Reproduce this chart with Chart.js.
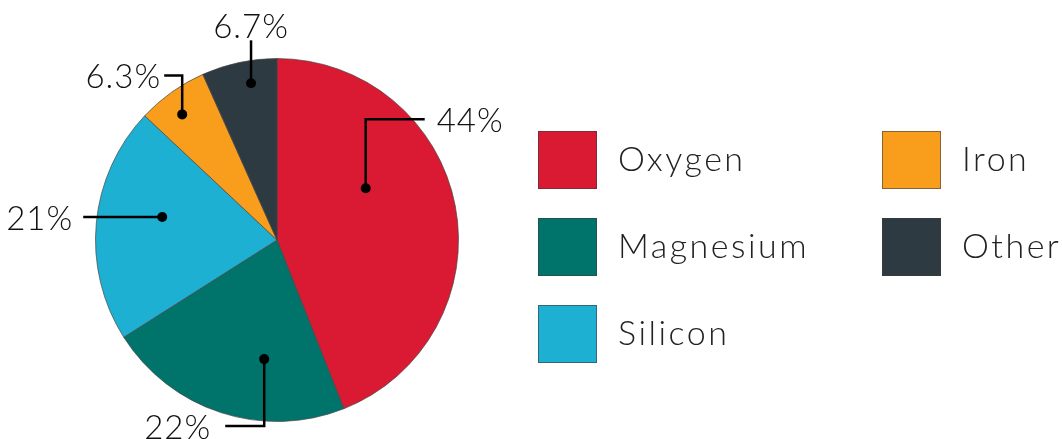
<!DOCTYPE html>
<html>
<head>
<meta charset="utf-8">
<script src="https://cdn.jsdelivr.net/npm/chart.js@4"></script>
<style>
  html, body { margin: 0; padding: 0; background: #fff; }
  #wrap { width: 1062px; height: 439px; position: relative; }
</style>
</head>
<body>
<div id="wrap"><canvas id="grafico"></canvas></div>
<script>
// Composición (%)
const elementos = ["Oxygen", "Magnesium", "Silicon", "Iron", "Other"];
const porcentajes = [44, 22, 21, 6.3, 6.7];
const colores = ["#DA1A32", "#00736A", "#1EB0D2", "#F99D1C", "#2E3A42"];

const fuente = "'Century Gothic', 'Lato', sans-serif";

// Posición del punto dentro de cada porción y del codo de la línea guía
// f: fracción del ángulo de la porción, r: fracción del radio
const guias = [
  { f: 0.377, r: 0.566, tramos: [[0, -69], [59, 0]], lado: "der", sep: 12 },
  { f: 0.35, r: 0.66, tramos: [[0, 67], [-39, 0]], lado: "izq", sep: 14 },
  { f: 0.578, r: 0.645, tramos: [[-79, 0]], lado: "izq", sep: 10 },
  { f: 0.43, r: 0.867, tramos: [[0, -39], [-18, 0]], lado: "izq", sep: 3 },
  { f: 0.61, r: 0.875, tramos: [[0, -43]], lado: "arriba", sep: 2 }
];

// Etiquetas con línea guía
const etiquetasPlugin = {
  id: "etiquetas",
  afterDatasetsDraw(chart) {
    const ctx = chart.ctx;
    const meta = chart.getDatasetMeta(0);
    ctx.save();
    meta.data.forEach((arc, i) => {
      const g = guias[i];
      const ang = arc.startAngle + (arc.endAngle - arc.startAngle) * g.f;
      let x = arc.x + Math.cos(ang) * arc.outerRadius * g.r;
      let y = arc.y + Math.sin(ang) * arc.outerRadius * g.r;

      ctx.fillStyle = "#000";
      ctx.beginPath();
      ctx.arc(x, y, 5, 0, Math.PI * 2);
      ctx.fill();

      ctx.strokeStyle = "#000";
      ctx.lineWidth = 2.5;
      ctx.beginPath();
      ctx.moveTo(x, y);
      g.tramos.forEach(t => {
        x += t[0];
        y += t[1];
        ctx.lineTo(x, y);
      });
      ctx.stroke();

      ctx.font = "300 33px " + fuente;
      ctx.letterSpacing = "1px";
      ctx.fillStyle = "#111";
      const texto = porcentajes[i] + "%";
      if (g.lado === "der") {
        ctx.textAlign = "left";
        ctx.textBaseline = "middle";
        ctx.fillText(texto, x + g.sep, y + 2);
      } else if (g.lado === "izq") {
        ctx.textAlign = "right";
        ctx.textBaseline = "middle";
        ctx.fillText(texto, x - g.sep, y + 2);
      } else {
        ctx.textAlign = "center";
        ctx.textBaseline = "alphabetic";
        ctx.fillText(texto, x, y - g.sep);
      }
    });
    ctx.restore();
  }
};

// Leyenda en dos columnas
const leyendaPlugin = {
  id: "leyenda",
  afterDraw(chart) {
    const ctx = chart.ctx;
    const columnas = [538, 882];
    const filas = [131, 218, 305];
    ctx.save();
    elementos.forEach((nombre, i) => {
      const cx = columnas[i < 3 ? 0 : 1];
      const cy = filas[i < 3 ? i : i - 3];
      ctx.fillStyle = colores[i];
      ctx.fillRect(cx, cy, 59, 58);
      ctx.strokeStyle = "rgba(60,60,60,0.6)";
      ctx.lineWidth = 1;
      ctx.strokeRect(cx + 0.5, cy + 0.5, 58, 57);

      ctx.font = "300 34px " + fuente;
      ctx.letterSpacing = "2.5px";
      ctx.fillStyle = "#222";
      ctx.textAlign = "left";
      ctx.textBaseline = "middle";
      ctx.fillText(nombre, cx + 80, cy + 29);
    });
    ctx.restore();
  }
};

new Chart(document.getElementById("grafico"), {
  type: "pie",
  data: {
    labels: elementos,
    datasets: [{
      data: porcentajes,
      backgroundColor: colores,
      borderColor: "rgba(70,70,70,0.7)",
      borderWidth: 1
    }]
  },
  options: {
    responsive: true,
    maintainAspectRatio: false,
    animation: false,
    layout: { padding: { top: 58, bottom: 17, left: 95, right: 603 } },
    plugins: {
      legend: { display: false },
      tooltip: { enabled: false }
    }
  },
  plugins: [etiquetasPlugin, leyendaPlugin]
});
</script>
</body>
</html>
